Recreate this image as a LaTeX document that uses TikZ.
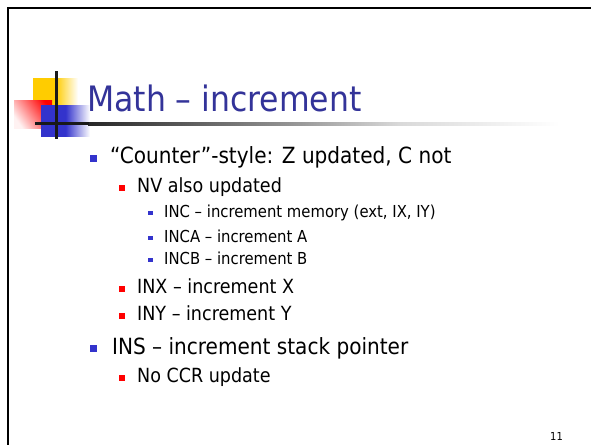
\documentclass[tikz,border=0pt]{standalone}
\usepackage{fontspec}
\setmainfont{DejaVu Sans Condensed}
\definecolor{titleblue}{RGB}{51,51,153}
\definecolor{bulblue}{RGB}{51,51,204}
\definecolor{bulred}{RGB}{255,0,0}
\definecolor{logoyellow}{RGB}{255,204,0}
\definecolor{logored}{RGB}{255,0,0}
\definecolor{barblack}{RGB}{25,25,25}
% horizontal fades used by the logo and the title rule
\pgfdeclarehorizontalshading{rulefade}{100bp}{color(0bp)=(black!85); color(25bp)=(black!85); color(47.5bp)=(black!40); color(58bp)=(black!15); color(75bp)=(white); color(100bp)=(white)}
\pgfdeclarehorizontalshading{yfade}{100bp}{color(0bp)=(logoyellow); color(50bp)=(logoyellow); color(75bp)=(white); color(100bp)=(white)}
\pgfdeclarehorizontalshading{bfade}{100bp}{color(0bp)=(bulblue); color(50bp)=(bulblue); color(75bp)=(white); color(100bp)=(white)}
\begin{document}
\begin{tikzpicture}[x=1pt,y=-1pt,
  txt/.style={anchor=base west, inner sep=0pt, text=black},
  lvA/.style={txt, font=\fontsize{22.3}{26}\selectfont},
  lvB/.style={txt, font=\fontsize{19.5}{23}\selectfont},
  lvC/.style={txt, font=\fontsize{16.5}{20}\selectfont},
  sq/.style={rectangle, inner sep=0pt, draw=none},
  bulA/.style={sq, fill=bulblue, minimum size=7pt},
  bulB/.style={sq, fill=bulred, minimum size=6pt},
  bulC/.style={sq, fill=bulblue, minimum size=4.6pt},
  frame/.style={line width=2.4pt, draw=black}]
\useasboundingbox (0,0) rectangle (591,445);
\fill[white] (0,0) rectangle (591,445);

% slide frame (top and left edges)
\draw[frame] (7,8) -- (591,8);
\draw[frame] (8,7) -- (8,445);

% logo squares
\shade[shading=yfade] (33,78) rectangle (78,122);
\shade[top color=logored, bottom color=logored!5, shading angle=-55] (14,100) rectangle (52,128);
\shade[shading=bfade] (41,105) rectangle (90,136);

% title rule and cross bars
\shade[shading=rulefade] (88,122.2) rectangle (560,125);
\draw[barblack, line width=3.2pt] (35,123.5) -- (89,123.5);
\draw[barblack, line width=3.2pt] (56.5,71) -- (56.5,139);

% title
\node[txt, text=titleblue, font=\fontsize{35}{41}\selectfont] (title) at (87,111) {Math – increment};

% bullet list
\node[bulA] (b1) at (93.5,158.5) {};
\node[lvA] (t1) at (110,163) {“Counter”-style: Z updated, C not};
\node[bulB] (b2) at (122,187.5) {};
\node[lvB] (t2) at (137,192) {NV also updated};
\node[bulC] (b3) at (150.5,213) {};
\node[lvC] (t3) at (164,217) {INC – increment memory (ext, IX, IY)};
\node[bulC] (b4) at (150.5,238) {};
\node[lvC] (t4) at (164,242) {INCA – increment A};
\node[bulC] (b5) at (150.5,260) {};
\node[lvC] (t5) at (164,264) {INCB – increment B};
\node[bulB] (b6) at (122,288.5) {};
\node[lvB] (t6) at (137,293) {INX – increment X};
\node[bulB] (b7) at (122,315.5) {};
\node[lvB] (t7) at (137,320) {INY – increment Y};
\node[bulA] (b8) at (93.5,348.5) {};
\node[lvA] (t8) at (112,354) {INS – increment stack pointer};
\node[bulB] (b9) at (122,377.5) {};
\node[lvB] (t9) at (137,382) {No CCR update};

% page number
\node[txt, font=\fontsize{11}{13}\selectfont] (pg) at (550,440) {11};
\end{tikzpicture}
\end{document}
